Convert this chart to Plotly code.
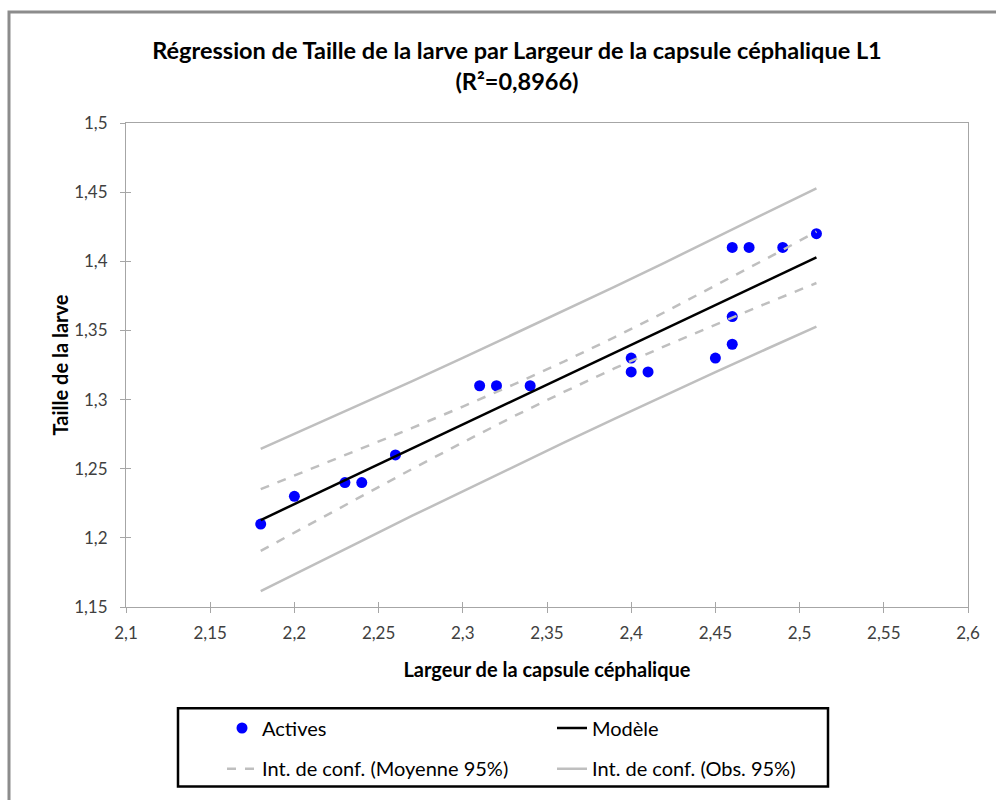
import plotly.graph_objects as go

# Observations (Actives)
larg = [2.18, 2.20, 2.23, 2.24, 2.26, 2.31, 2.32, 2.34, 2.40, 2.40, 2.41, 2.45,
        2.46, 2.46, 2.46, 2.47, 2.49, 2.51]
taille = [1.21, 1.23, 1.24, 1.24, 1.26, 1.31, 1.31, 1.31, 1.33, 1.32, 1.32, 1.33,
          1.41, 1.36, 1.34, 1.41, 1.41, 1.42]

# Model and confidence bands
band_x = [2.18, 2.21, 2.24, 2.27, 2.30, 2.33, 2.36, 2.39, 2.42, 2.45, 2.48, 2.51]
model_y = [1.2129, 1.2302, 1.2474, 1.2647, 1.2820, 1.2992, 1.3165, 1.3338, 1.3510, 1.3683, 1.3856, 1.4028]
mean_hi = [1.2352, 1.2498, 1.2645, 1.2795, 1.2949, 1.3108, 1.3274, 1.3450, 1.3633, 1.3823, 1.4017, 1.4214]
mean_lo = [1.1906, 1.2105, 1.2303, 1.2499, 1.2690, 1.2877, 1.3055, 1.3225, 1.3387, 1.3543, 1.3694, 1.3843]
obs_hi = [1.2644, 1.2806, 1.2969, 1.3134, 1.3301, 1.3471, 1.3642, 1.3815, 1.3991, 1.4168, 1.4347, 1.4528]
obs_lo = [1.1614, 1.1798, 1.1979, 1.2160, 1.2338, 1.2514, 1.2688, 1.2860, 1.3030, 1.3198, 1.3364, 1.3528]

FONT = "Lato, Carlito, Calibri, sans-serif"
GRAY = "#BFBFBF"

fig = go.Figure()

fig.add_trace(go.Scatter(x=larg, y=taille, mode="markers", name="Actives",
                         marker=dict(color="#0000FF", size=11), legend="legend"))
fig.add_trace(go.Scatter(x=band_x, y=model_y, mode="lines", name="Modèle",
                         line=dict(color="black", width=2.5), legend="legend"))
fig.add_trace(go.Scatter(x=band_x, y=mean_hi, mode="lines", name="Int. de conf. (Moyenne 95%)",
                         line=dict(color=GRAY, width=2.5, dash="dash"), legend="legend2",
                         legendgroup="m"))
fig.add_trace(go.Scatter(x=band_x, y=mean_lo, mode="lines", name="Int. de conf. (Moyenne 95%)",
                         line=dict(color=GRAY, width=2.5, dash="dash"), legend="legend2",
                         legendgroup="m", showlegend=False))
fig.add_trace(go.Scatter(x=band_x, y=obs_hi, mode="lines", name="Int. de conf. (Obs. 95%)",
                         line=dict(color=GRAY, width=2.5), legend="legend2", legendgroup="o"))
fig.add_trace(go.Scatter(x=band_x, y=obs_lo, mode="lines", name="Int. de conf. (Obs. 95%)",
                         line=dict(color=GRAY, width=2.5), legend="legend2",
                         legendgroup="o", showlegend=False))

L, R, T, B = 126, 28, 123, 189
W, H = 996, 800
pw, ph = W - L - R, H - T - B

def px(x):
    return (x - L) / pw

def py(y):
    return (H - B - y) / ph

axis_common = dict(showgrid=False, zeroline=False, showline=True, linecolor="#A6A6A6",
                   linewidth=1, mirror=True, ticks="outside", ticklen=5,
                   tickcolor="#A6A6A6", tickfont=dict(family=FONT, size=17, color="#404040"))

fig.update_layout(
    width=W, height=H,
    margin=dict(l=L, r=R, t=T, b=B),
    paper_bgcolor="white", plot_bgcolor="white",
    separators=", ",
    title=dict(text="<b>Régression de Taille de la larve par Largeur de la capsule céphalique L1<br>(R²=0,8966)</b>",
               x=517 / W, xref="container", xanchor="center",
               y=1 - 59 / H, yref="container", yanchor="middle",
               font=dict(family=FONT, size=23.5, color="black")),
    xaxis=dict(range=[2.1, 2.6], dtick=0.05, tick0=2.1, ticklabelstandoff=6, **axis_common,
               title=dict(text="<b>Largeur de la capsule céphalique</b>",
                          font=dict(family=FONT, size=20, color="black"), standoff=20)),
    yaxis=dict(range=[1.15, 1.5], dtick=0.05, tick0=1.15, ticklabelstandoff=9, **axis_common,
               title=dict(text="<b>Taille de la larve</b>",
                          font=dict(family=FONT, size=20, color="black"), standoff=0)),
    xaxis2=dict(range=[2.1, 2.6], dtick=0.05, tick0=2.1, overlaying="x", showticklabels=False,
                ticks="inside", ticklen=5, tickcolor="#A6A6A6", showgrid=False, zeroline=False,
                showline=False),
    yaxis2=dict(range=[1.15, 1.5], dtick=0.05, tick0=1.15, overlaying="y", showticklabels=False,
                ticks="inside", ticklen=5, tickcolor="#A6A6A6", showgrid=False, zeroline=False,
                showline=False),
    legend=dict(orientation="h", x=px(222), y=py(733), xanchor="left", yanchor="middle",
                entrywidth=285, font=dict(family=FONT, size=20, color="black"),
                bgcolor="rgba(0,0,0,0)", borderwidth=0, itemwidth=30),
    legend2=dict(orientation="h", x=px(222), y=py(774), xanchor="left", yanchor="middle",
                 entrywidth=285, font=dict(family=FONT, size=20, color="black"),
                 bgcolor="rgba(0,0,0,0)", borderwidth=0, itemwidth=30),
    showlegend=True,
)

# dummy trace to activate the overlay axes for inside ticks
fig.add_trace(go.Scatter(x=[2.1], y=[1.15], xaxis="x2", yaxis="y2", mode="markers",
                         marker=dict(opacity=0), showlegend=False, hoverinfo="skip"))

# legend frame and chart border
fig.add_shape(type="rect", xref="paper", yref="paper",
              x0=px(178), x1=px(828), y0=py(792), y1=py(713),
              line=dict(color="black", width=2.5), layer="above")
fig.add_shape(type="rect", xref="paper", yref="paper",
              x0=px(9), x1=px(1010), y0=py(830), y1=py(11),
              line=dict(color="#8C8C8C", width=3), layer="above")

fig.write_html("out.html")
